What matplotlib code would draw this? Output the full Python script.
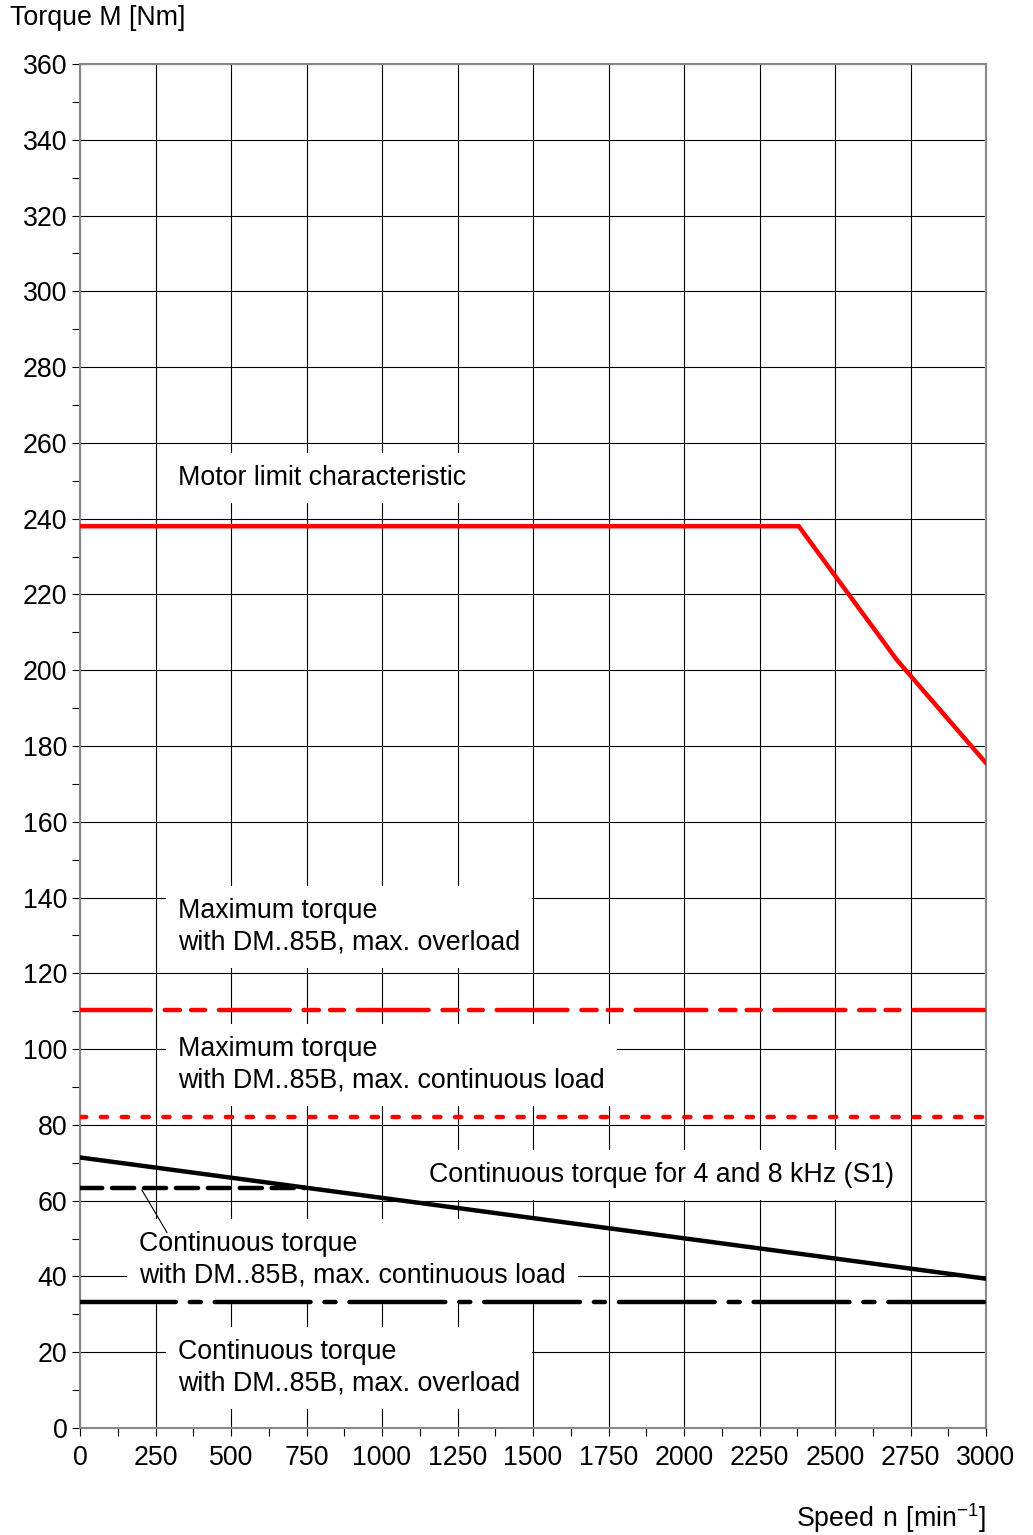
import numpy as np
import matplotlib.pyplot as plt
from matplotlib.ticker import MultipleLocator

plt.rcParams['font.family'] = ['Liberation Sans', 'DejaVu Sans']
plt.rcParams['mathtext.fontset'] = 'custom'
plt.rcParams['mathtext.rm'] = 'Liberation Sans'
plt.rcParams['lines.scale_dashes'] = False

#####----- data
speed_motor = [0, 2380, 2705, 3000]
torque_motor = [238, 238, 202.7, 175.5]

speed_full = [0, 3000]
torque_max_overload = [110.4, 110.4]
torque_max_cont = [82.1, 82.1]
torque_s1 = [71.4, 39.4]
torque_cont_overload = [33.2, 33.2]

speed_cont_dm = [0, 745]
torque_cont_dm = [63.4, 63.4]

RED = '#ff0000'
FS = 19.3

fig = plt.figure(figsize=[10.33, 15.35], dpi=100)
ax = fig.add_axes([80/1033, 1 - 1428/1535, 906/1033, 1364/1535])

ax.set_xlim(0, 3000)
ax.set_ylim(0, 360)
ax.xaxis.set_major_locator(MultipleLocator(250))
ax.xaxis.set_minor_locator(MultipleLocator(125))
ax.yaxis.set_major_locator(MultipleLocator(20))
ax.yaxis.set_minor_locator(MultipleLocator(10))
ax.grid(which='major', color='black', linewidth=0.8, zorder=1)
ax.set_axisbelow(True)
ax.tick_params(which='both', direction='out', length=6, width=0.8, color='black',
               labelsize=FS)
ax.tick_params(axis='y', pad=3)
ax.tick_params(axis='x', pad=6)
for sp in ax.spines.values():
    sp.set_color('#888888')
    sp.set_linewidth(1.5)

# lines
ax.plot(speed_motor, torque_motor, color=RED, lw=3.2, zorder=5, solid_joinstyle='miter')
ax.plot(speed_full, torque_max_overload, color=RED, lw=3.2, zorder=5,
        dashes=(51, 10, 11, 8, 10, 10), dash_capstyle='round')
ax.plot(speed_full, torque_max_cont, color=RED, lw=3.2, zorder=5,
        dashes=(4.5, 10.5), dash_capstyle='round')
ax.plot(speed_full, torque_s1, color='black', lw=3.2, zorder=5)
ax.plot(speed_cont_dm, torque_cont_dm, color='black', lw=3.2, zorder=5,
        dashes=(16, 7), dash_capstyle='round')
ax.plot(speed_full, torque_cont_overload, color='black', lw=3.2, zorder=5,
        dashes=(69, 10, 8, 10), dash_capstyle='round')

# labels with white boxes hiding the grid
box = dict(facecolor='white', edgecolor='none', boxstyle='square,pad=0.45')
kw = dict(fontsize=FS, va='center', ha='left', linespacing=1.27, bbox=box, zorder=3)
ax.text(324, 250.7, "Motor limit characteristic", **kw)
ax.text(324, 132.2, "Maximum torque\nwith DM..85B, max. overload", **kw)
ax.text(324, 95.8, "Maximum torque\nwith DM..85B, max. continuous load", **kw)
ax.text(1155, 66.8, "Continuous torque for 4 and 8 kHz (S1)", **kw)
ax.text(195, 44.3, "Continuous torque\nwith DM..85B, max. continuous load", **kw)
ax.text(324, 15.8, "Continuous torque\nwith DM..85B, max. overload", **kw)

# leader line to the dashed curve
ax.plot([205, 288], [62.8, 51.6], color='black', lw=0.8, zorder=4)

fig.text(10/1033, 1 - 18/1535, "Torque M [Nm]", fontsize=FS, ha='left', va='center')
fig.text(986/1033, 1 - 1518/1535, r"$\mathregular{Speed\ n\ [min^{-1}]}$", fontsize=FS,
         ha='right', va='center')

fig.savefig("out.png", dpi=100)
